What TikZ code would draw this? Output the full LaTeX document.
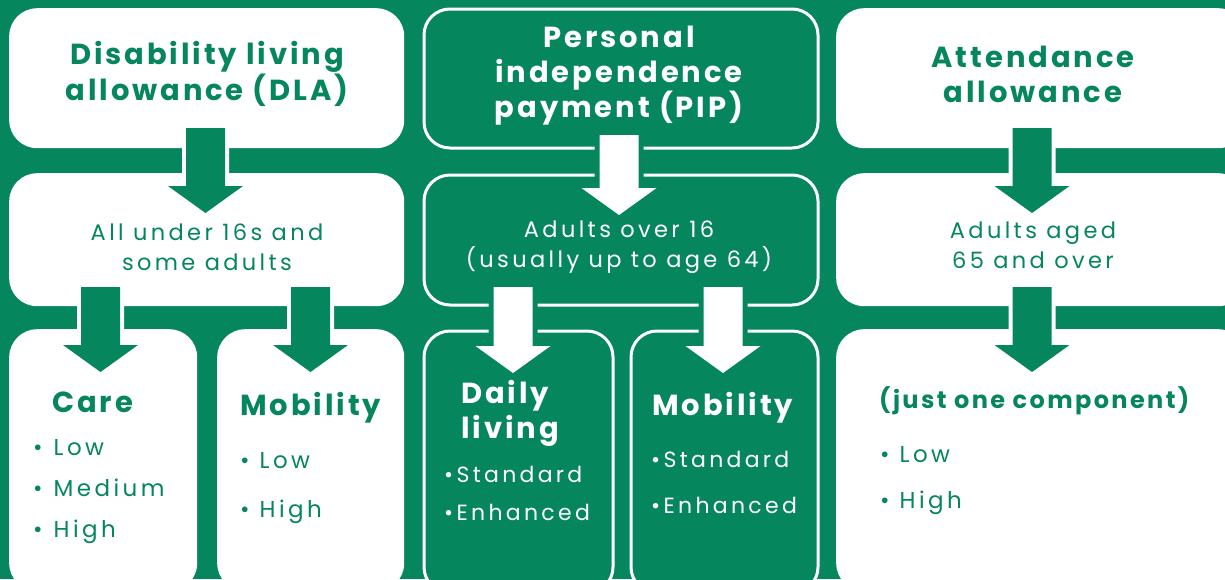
\documentclass[tikz,border=0pt]{standalone}
\usepackage{fontspec}
\setmainfont{Poppins}
\newfontfamily\hfont[LetterSpace=10]{Poppins}
\newfontfamily\tfont[LetterSpace=15]{Poppins}
\usetikzlibrary{calc}
\definecolor{bg}{HTML}{06865D}
\tikzset{
  wbox/.style={fill=white, rounded corners=28pt, inner sep=0pt, anchor=north west},
  gbox/.style={draw=white, line width=3pt, fill=bg, rounded corners=26pt, inner sep=0pt, anchor=north west},
  head/.style={font=\hfont\bfseries\fontsize{29}{34}\selectfont, align=center, inner sep=0pt},
  sub/.style={font=\tfont\fontsize{22.5}{29.5}\selectfont, align=center, inner sep=0pt},
  lst/.style={font=\tfont\fontsize{23}{41}\selectfont, align=left, inner sep=0pt, anchor=base west},
  gtext/.style={text=bg},
  wtext/.style={text=white},
  garrow/.style={fill=bg, preaction={draw=white, line width=8pt, line join=miter}},
  warrow/.style={fill=white, preaction={draw=bg, line width=10pt, line join=miter}},
}
\newcommand\blockarr[3]{%
  \path[#1] let \p1=(#2), \p2=(#3) in
    (\x1-19.5pt,\y1) -- (\x1+19.5pt,\y1) -- (\x1+19.5pt,\y2+27pt) -- (\x1+37.5pt,\y2+27pt)
    -- (\x1,\y2) -- (\x1-37.5pt,\y2+27pt) -- (\x1-19.5pt,\y2+27pt) -- cycle;}
\newcommand\bul[1]{•\hspace{#1}}
\begin{document}
\begin{tikzpicture}[x=1pt,y=-1pt]
\useasboundingbox (0,0) rectangle (1225,579);
\fill[bg] (0,0) rectangle (1225,579);
\begin{scope}
\clip (0,0) rectangle (1225,579);
% left column
\node[wbox, minimum width=395, minimum height=140] (dla) at (9,8) {};
\node[wbox, minimum width=395, minimum height=133] (dlag) at (9,173) {};
\node[wbox, minimum width=188, minimum height=262] (care) at (9,329) {};
\node[wbox, minimum width=187, minimum height=262] (dmob) at (217,329) {};
% middle column
\node[gbox, minimum width=394, minimum height=139] (pip) at (422.5,7.5) {};
\node[gbox, minimum width=394, minimum height=130] (pipg) at (422.5,173.5) {};
\node[gbox, minimum width=189, minimum height=262] (daily) at (422.5,329.5) {};
\node[gbox, minimum width=187, minimum height=262] (pmob) at (629.5,329.5) {};
% right column
\node[wbox, minimum width=410, minimum height=140] (aa) at (836,8) {};
\node[wbox, minimum width=410, minimum height=133] (aag) at (836,173) {};
\node[wbox, minimum width=410, minimum height=262] (aac) at (836,329) {};
% arrow coordinates
\coordinate (a1s) at (205.5,128); \coordinate (a1e) at (205.5,213);
\coordinate (a2s) at (100.5,287); \coordinate (a2e) at (100.5,372);
\coordinate (a3s) at (310.5,287); \coordinate (a3e) at (310.5,372);
\coordinate (b1s) at (619,135); \coordinate (b1e) at (619,215);
\coordinate (b2s) at (513,287); \coordinate (b2e) at (513,373);
\coordinate (b3s) at (723,287); \coordinate (b3e) at (723,373);
\coordinate (c1s) at (1032,128); \coordinate (c1e) at (1032,213);
\coordinate (c2s) at (1032,287); \coordinate (c2e) at (1032,372);
\blockarr{garrow}{a1s}{a1e}
\blockarr{garrow}{a2s}{a2e}
\blockarr{garrow}{a3s}{a3e}
\blockarr{warrow}{b1s}{b1e}
\blockarr{warrow}{b2s}{b2e}
\blockarr{warrow}{b3s}{b3e}
\blockarr{garrow}{c1s}{c1e}
\blockarr{garrow}{c2s}{c2e}
% texts (base anchor = last line's baseline)
\node[head, gtext, anchor=base, font=\hfont\bfseries\fontsize{29}{33}\selectfont] (tdla) at (207,100) {Disability living\\allowance (DLA)};
\node[head, wtext, anchor=base, font=\hfont\bfseries\fontsize{29}{35}\selectfont] (tpip) at (619,117) {Personal\\independence\\payment (PIP)};
\node[head, gtext, anchor=base, font=\hfont\bfseries\fontsize{29}{35}\selectfont] (taa) at (1033,102) {Attendance\\allowance};
\node[sub, gtext, anchor=base] (sdla) at (207,270) {All under 16s and\\some adults};
\node[sub, wtext, anchor=base] (spip) at (619,267) {Adults over 16\\(usually up to age 64)};
\node[sub, gtext, anchor=base] (saa) at (1033,268) {Adults aged\\65 and over};
\node[head, gtext, anchor=base west] (tcare) at (52,412) {Care};
\node[head, gtext, anchor=base west] (tdmob) at (240,415) {Mobility};
\node[head, wtext, anchor=base west, align=left, font=\hfont\bfseries\fontsize{29}{35}\selectfont] (tdaily) at (461,438) {Daily\\living};
\node[head, wtext, anchor=base west] (tpmob) at (652,415) {Mobility};
\node[head, gtext, anchor=base west, font=\hfont\bfseries\fontsize{24}{28}\selectfont] (tcomp) at (879,408) {(just one component)};
\node[lst, gtext] (lcare) at (33,537) {\bul{11pt}Low\\\bul{11pt}Medium\\\bul{11pt}High};
\node[lst, gtext, font=\tfont\fontsize{23}{49}\selectfont] (ldmob) at (240,517) {\bul{10pt}Low\\\bul{10pt}High};
\node[lst, wtext, font=\tfont\fontsize{22}{38}\selectfont] (ldaily) at (444,520) {•Standard\\•Enhanced};
\node[lst, wtext, font=\tfont\fontsize{22}{46}\selectfont] (lpmob) at (651,513) {•Standard\\•Enhanced};
\node[lst, gtext, font=\tfont\fontsize{23}{46}\selectfont] (laa) at (880,508) {\bul{10pt}Low\\\bul{10pt}High};
\end{scope}
\end{tikzpicture}
\end{document}
